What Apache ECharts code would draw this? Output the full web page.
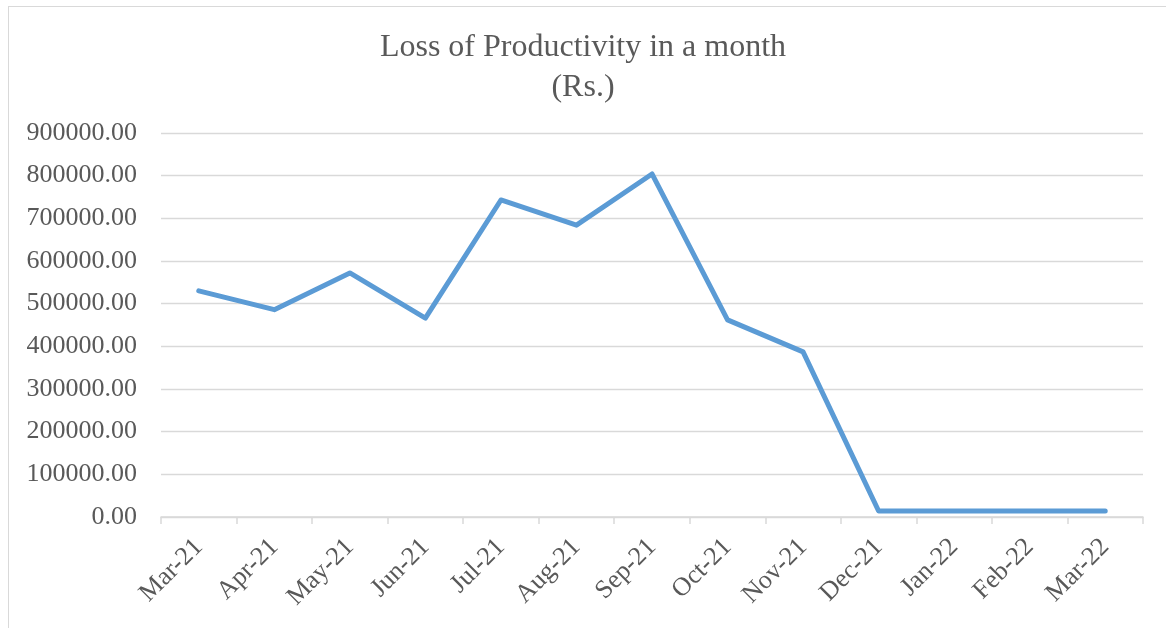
<!DOCTYPE html>
<html>
<head>
<meta charset="utf-8">
<script src="https://cdn.jsdelivr.net/npm/echarts@6/dist/echarts.min.js"></script>
<style>
  html, body { margin: 0; padding: 0; background: #fff; }
  #frame { position: absolute; left: 8px; top: 6px; width: 1170px; height: 640px; border: 1px solid #d9d9d9; }
  #main { position: absolute; left: 0; top: 0; width: 1166px; height: 628px; }
</style>
</head>
<body>
<div id="frame"></div>
<div id="main"></div>
<script>
  // months on the x axis
  var months = ['Mar-21', 'Apr-21', 'May-21', 'Jun-21', 'Jul-21', 'Aug-21', 'Sep-21',
                'Oct-21', 'Nov-21', 'Dec-21', 'Jan-22', 'Feb-22', 'Mar-22'];
  // loss of productivity (Rs.)
  var loss = [530000, 486000, 572000, 466000, 743000, 684000, 804000,
              462000, 387000, 14000, 14000, 14000, 14000];

  var font = '"Liberation Serif", "Times New Roman", serif';
  var chart = echarts.init(document.getElementById('main'));
  chart.setOption({
    animation: false,
    title: {
      text: 'Loss of Productivity in a month\n(Rs.)',
      left: 'center',
      top: 23,
      textStyle: {
        fontFamily: font,
        fontSize: 32,
        fontWeight: 'normal',
        color: '#595959',
        lineHeight: 40
      }
    },
    grid: {
      left: 161,
      right: 23,
      top: 133,
      bottom: 111
    },
    xAxis: {
      type: 'category',
      data: months,
      boundaryGap: true,
      axisLine: { lineStyle: { color: '#d9d9d9', width: 1.5 } },
      axisTick: { show: true, length: 7, lineStyle: { color: '#d9d9d9', width: 1.5 } },
      axisLabel: {
        rotate: 45,
        margin: 26,
        interval: 0,
        fontFamily: font,
        fontSize: 26,
        color: '#595959'
      }
    },
    yAxis: {
      type: 'value',
      min: 0,
      max: 900000,
      interval: 100000,
      axisLine: { show: false },
      axisTick: { show: false },
      splitLine: { lineStyle: { color: '#d9d9d9', width: 1.3 } },
      axisLabel: {
        margin: 24,
        fontFamily: font,
        fontSize: 26,
        color: '#595959',
        formatter: function (v) { return v.toFixed(2); }
      }
    },
    series: [{
      name: 'Loss of Productivity',
      type: 'line',
      data: loss,
      symbol: 'none',
      lineStyle: { color: '#5b9bd5', width: 5, cap: 'round', join: 'round' }
    }]
  });
</script>
</body>
</html>
